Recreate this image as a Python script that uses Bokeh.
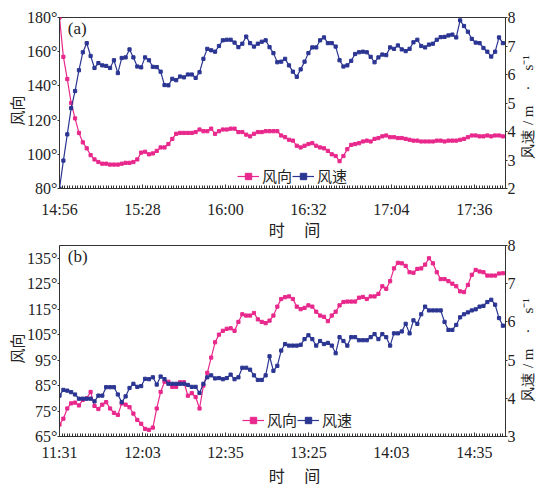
import math
from bokeh.plotting import figure
from bokeh.models import Range1d, LinearAxis, FixedTicker, Legend, LegendItem, Label
from bokeh.layouts import column, row
from bokeh.embed import file_html
from bokeh.resources import INLINE
from bokeh.core.properties import value

# ---------------- data ----------------
STEP = 1.5  # minutes per sample
tick_pos = [0, 32, 64, 96, 128, 160]
time_labels_a = ["14:56", "15:28", "16:00", "16:32", "17:04", "17:36"]
time_labels_b = ["11:31", "12:03", "12:35", "13:25", "14:03", "14:35"]

dir_ticks_a = [80, 100, 120, 140, 160, 180]
spd_ticks_a = [2, 3, 4, 5, 6, 7, 8]
dir_ticks_b = [65, 75, 85, 95, 105, 115, 125, 135]
spd_ticks_b = [3, 4, 5, 6, 7, 8]

# (a) wind direction (deg)
dir_a = [180, 157, 144, 130, 121, 112.5, 107, 103.5, 99.5, 97,
         95.5, 94.5, 94.5, 94, 94, 94, 94.5, 95, 95, 95.5,
         97, 101, 101.5, 100, 100.5, 102, 104, 104, 106, 109,
         112, 112.5, 112.5, 112.5, 112.5, 113, 114.5, 113.5, 113.5, 115,
         112, 113.5, 114.5, 114.5, 115, 115, 113, 113, 111.5, 110.5,
         112, 113, 113, 113.5, 113.5, 113.5, 113.5, 111, 110, 108.5,
         108, 105, 104, 105, 106, 106.5, 105, 104, 103.5, 102,
         100, 99, 96, 99, 103, 105.5, 106, 106.5, 107.5, 108,
         107.5, 109, 109.5, 110.5, 111, 110, 110, 109.5, 109.5, 109,
         108.5, 108, 108, 107.5, 107.5, 107.5, 107.5, 108, 108, 107.5,
         108, 108, 108, 108.5, 109, 110, 111, 111, 110.5, 110.5,
         111, 110.5, 111, 111, 110.5]
# (a) wind speed (m/s)
spd_a = [2.0, 2.98, 3.9, 4.82, 5.42, 6.15, 6.78, 7.1, 6.65, 6.23,
         6.4, 6.32, 6.3, 6.23, 6.5, 6.05, 6.58, 6.6, 6.88, 6.6,
         6.28, 6.25, 6.6, 6.5, 6.27, 6.26, 6.1, 5.63, 5.62, 5.85,
         5.8, 5.93, 5.9, 6.0, 6.0, 5.88, 6.08, 6.55, 6.9, 6.85,
         6.8, 7.0, 7.2, 7.22, 7.22, 7.12, 6.96, 7.08, 7.33, 7.1,
         6.98, 7.08, 7.15, 7.2, 6.96, 6.75, 6.43, 6.45, 6.55, 6.32,
         6.1, 5.92, 6.18, 6.45, 6.75, 6.95, 6.95, 7.2, 7.3, 7.1,
         7.1, 6.98, 6.5, 6.28, 6.32, 6.48, 6.72, 6.78, 6.8, 6.78,
         6.62, 6.43, 6.6, 6.7, 6.68, 6.95, 6.9, 7.02, 6.88, 6.82,
         6.9, 7.13, 7.22, 7.0, 6.95, 7.05, 7.08, 7.22, 7.31, 7.32,
         7.37, 7.4, 7.3, 7.9, 7.7, 7.5, 7.25, 7.12, 7.1, 6.93,
         6.8, 6.63, 6.8, 7.3, 7.1]
# (b) wind direction (deg)
dir_b = [69.7, 72, 76, 78, 78.3, 77.2, 79.4, 80, 82.5, 77,
         75.8, 77.5, 78.5, 76, 74.3, 73.5, 78, 77.5, 76.5, 74,
         71.5, 70, 68, 67.6, 68.5, 76, 82.5, 86.5, 86.5, 84.5,
         84.5, 86.3, 86.3, 81, 82, 80.5, 76, 85, 90, 96,
         102, 105, 106.5, 107.3, 107.5, 106.5, 110, 113, 112.5, 112.5,
         113.5, 111, 110, 109.5, 110.5, 112.5, 116, 119, 119.7, 120,
         119, 116, 115, 115.5, 116.5, 116, 114, 112.5, 112, 110.3,
         112.5, 114, 116.5, 117.8, 118, 118, 118, 119.5, 119.8, 119,
         120, 120, 121, 124, 123, 126, 131, 133.2, 133, 132,
         129.5, 129.3, 130.8, 131, 132.5, 135, 133, 129.5, 126.8, 126.8,
         126, 125, 124, 122, 121.7, 124.5, 128.5, 130.4, 129.8, 129.5,
         128.2, 128.2, 128.2, 129, 129.1]
# (b) wind speed (m/s)
spd_b = [4.07, 4.22, 4.2, 4.16, 4.1, 3.99, 3.99, 3.99, 3.99, 3.92,
         4.07, 4.07, 4.29, 4.29, 4.29, 4.1, 3.9, 4.05, 4.27, 4.38,
         4.3, 4.32, 4.51, 4.5, 4.55, 4.36, 4.57, 4.5, 4.38, 4.38,
         4.38, 4.38, 4.38, 4.35, 4.3, 4.3, 4.14, 4.38, 4.55, 4.6,
         4.52, 4.53, 4.5, 4.53, 4.62, 4.5, 4.55, 4.8, 4.8, 4.75,
         4.6, 4.48, 4.48, 4.6, 5.1, 4.72, 4.85, 5.25, 5.42, 5.38,
         5.38, 5.38, 5.4, 5.55, 5.65, 5.55, 5.38, 5.5, 5.42, 5.45,
         5.38, 5.18, 5.6, 5.5, 5.38, 5.6, 5.6, 5.52, 5.52, 5.52,
         5.6, 5.68, 5.55, 5.68, 5.6, 5.38, 5.7, 5.7, 5.75, 5.95,
         5.7, 6.04, 5.95, 6.2, 6.4, 6.3, 6.3, 6.3, 6.3, 6.0,
         5.79, 5.79, 5.92, 6.12, 6.2, 6.25, 6.3, 6.33, 6.4, 6.42,
         6.52, 6.58, 6.45, 6.1, 5.9]

# ---------------- style ----------------
PINK = "#E8288C"
BLUE = "#2B3592"
AX = "#333333"
TXT = "#222222"
SERIF = "Liberation Serif"
CJK = "Noto Sans CJK SC"
X_MAX = 172
MAIN_W = 518
SIDE_W = 536 - MAIN_W
RIGHT_TITLE = "风速 / m\u2003·\u2003s⁻¹"
OVERLAP = 8  # panel (b) slides up under panel (a)'s empty bottom margin


def style_axis(ax, tick_out, standoff, label_standoff):
    ax.axis_line_color = AX
    ax.major_tick_line_color = AX
    ax.minor_tick_line_color = AX
    ax.major_tick_out = tick_out
    ax.major_tick_in = 0
    ax.minor_tick_out = 0
    ax.minor_tick_in = 0
    ax.major_label_text_font = SERIF
    ax.major_label_text_font_size = "16px"
    ax.major_label_text_color = TXT
    ax.major_label_standoff = standoff
    ax.axis_label_text_font = CJK
    ax.axis_label_text_font_style = "normal"
    ax.axis_label_text_font_size = "15px"
    ax.axis_label_text_color = TXT
    ax.axis_label_standoff = label_standoff


def panel(dirs, spds, dlo, dhi, dticks, slo, shi, sticks, xlabels, tag,
          height, top, bottom, x_standoff, x_label_standoff, legend_loc, transparent):
    frame_h = height - top - bottom
    p = figure(width=MAIN_W, height=height, output_backend="svg", toolbar_location=None,
               x_range=Range1d(0, X_MAX), y_range=Range1d(dlo, dhi),
               min_border_left=59, min_border_right=MAIN_W - 59 - 449,
               min_border_top=top, min_border_bottom=bottom)
    p.extra_y_ranges = {"sp": Range1d(slo, shi)}
    p.xgrid.grid_line_color = None
    p.ygrid.grid_line_color = None
    p.outline_line_color = AX
    p.outline_line_alpha = 1.0
    p.background_fill_color = "white"
    p.border_fill_color = "white"
    if transparent:
        p.border_fill_alpha = 0.0

    t = [i * STEP for i in range(len(dirs))]
    r1 = p.line(t, dirs, line_color=PINK, line_width=1.2)
    r2 = p.scatter(t, dirs, marker="square", size=3.2, fill_color=PINK, line_color=PINK)
    r3 = p.line(t, spds, line_color=BLUE, line_width=1.2, y_range_name="sp")
    r4 = p.scatter(t, spds, marker="square", size=3.2, fill_color=BLUE, line_color=BLUE,
                   y_range_name="sp")

    ypp = (dhi - dlo) / frame_h

    # x axis
    xa = p.xaxis[0]
    xa.ticker = FixedTicker(ticks=tick_pos, minor_ticks=list(range(0, X_MAX + 1)))
    xa.major_label_overrides = {pos: lab for pos, lab in zip(tick_pos, xlabels)}
    style_axis(xa, 0, x_standoff, x_label_standoff)
    xa.major_tick_in = 4
    xa.minor_tick_in = 3
    xa.axis_label = "\u2003\u2002时\u2003 间"
    xa.axis_label_text_font_size = "16px"

    # left axis
    ya = p.yaxis[0]
    ya.ticker = FixedTicker(ticks=dticks)
    ya.major_label_overrides = {v: f"{v}°" for v in dticks}
    style_axis(ya, 2, 0, -3)
    ya.axis_label = "风向\u2003"

    # right axis (ticks only; its title is drawn in a strip beside it)
    ra = LinearAxis(y_range_name="sp", ticker=FixedTicker(ticks=sticks))
    style_axis(ra, 2, 0, 0)
    p.add_layout(ra, "right")

    # panel tag
    p.add_layout(Label(x=3.2, y=dhi - 1.2 * ypp, text=tag, text_baseline="top",
                       text_font=SERIF, text_font_size="17px", text_color=TXT))

    legend = Legend(items=[LegendItem(label="风向", renderers=[r1, r2]),
                           LegendItem(label="风速", renderers=[r3, r4])],
                    location=legend_loc, orientation="horizontal",
                    padding=0, margin=0, spacing=0, label_standoff=3,
                    glyph_width=22, glyph_height=16, label_height=16,
                    border_line_alpha=0, background_fill_alpha=0,
                    label_text_font=CJK, label_text_font_size="15px",
                    label_text_color=TXT)
    p.add_layout(legend)
    return p


def side_title(height, top, bottom, dlo, dhi, center_shift_px, transparent):
    """Narrow strip holding the right-hand axis title, reading bottom-to-top."""
    frame_h = height - top - bottom
    s = figure(width=SIDE_W, height=height, output_backend="svg", toolbar_location=None,
               x_range=Range1d(0, 1), y_range=Range1d(dlo, dhi),
               x_axis_type=None, y_axis_type=None,
               min_border_left=0, min_border_right=0,
               min_border_top=top, min_border_bottom=bottom)
    s.outline_line_color = None
    s.background_fill_color = "white"
    s.border_fill_color = "white"
    if transparent:
        s.border_fill_alpha = 0.0
        s.background_fill_alpha = 0.0
    yc = (dlo + dhi) / 2 - center_shift_px * (dhi - dlo) / frame_h
    s.text(x=[0.5], y=[yc], text=[RIGHT_TITLE], angle=math.pi / 2,
           text_align="center", text_baseline="middle",
           text_font=value(SERIF), text_font_size="15px", text_color=TXT)
    return s


pa = panel(dir_a, spd_a, 80, 180, dir_ticks_a, 2, 8, spd_ticks_a, time_labels_a,
           "(a)", 244, 17, 56, 12, -4, (178, 2), False)
sa = side_title(244, 17, 56, 80, 180, 4, False)
pb = panel(dir_b, spd_b, 65, 140, dir_ticks_b, 3, 8, spd_ticks_b, time_labels_b,
           "(b)", 246 + OVERLAP, 1 + OVERLAP, 54, 7, -1, (183, 6), True)
sb = side_title(246 + OVERLAP, 1 + OVERLAP, 54, 65, 140, 9, True)

row_a = row(pa, sa, spacing=0)
row_b = row(pb, sb, spacing=0, margin=(-OVERLAP, 0, 0, 0))
layout = column(row_a, row_b, spacing=0)
open("out.html", "w").write(file_html(layout, INLINE))
